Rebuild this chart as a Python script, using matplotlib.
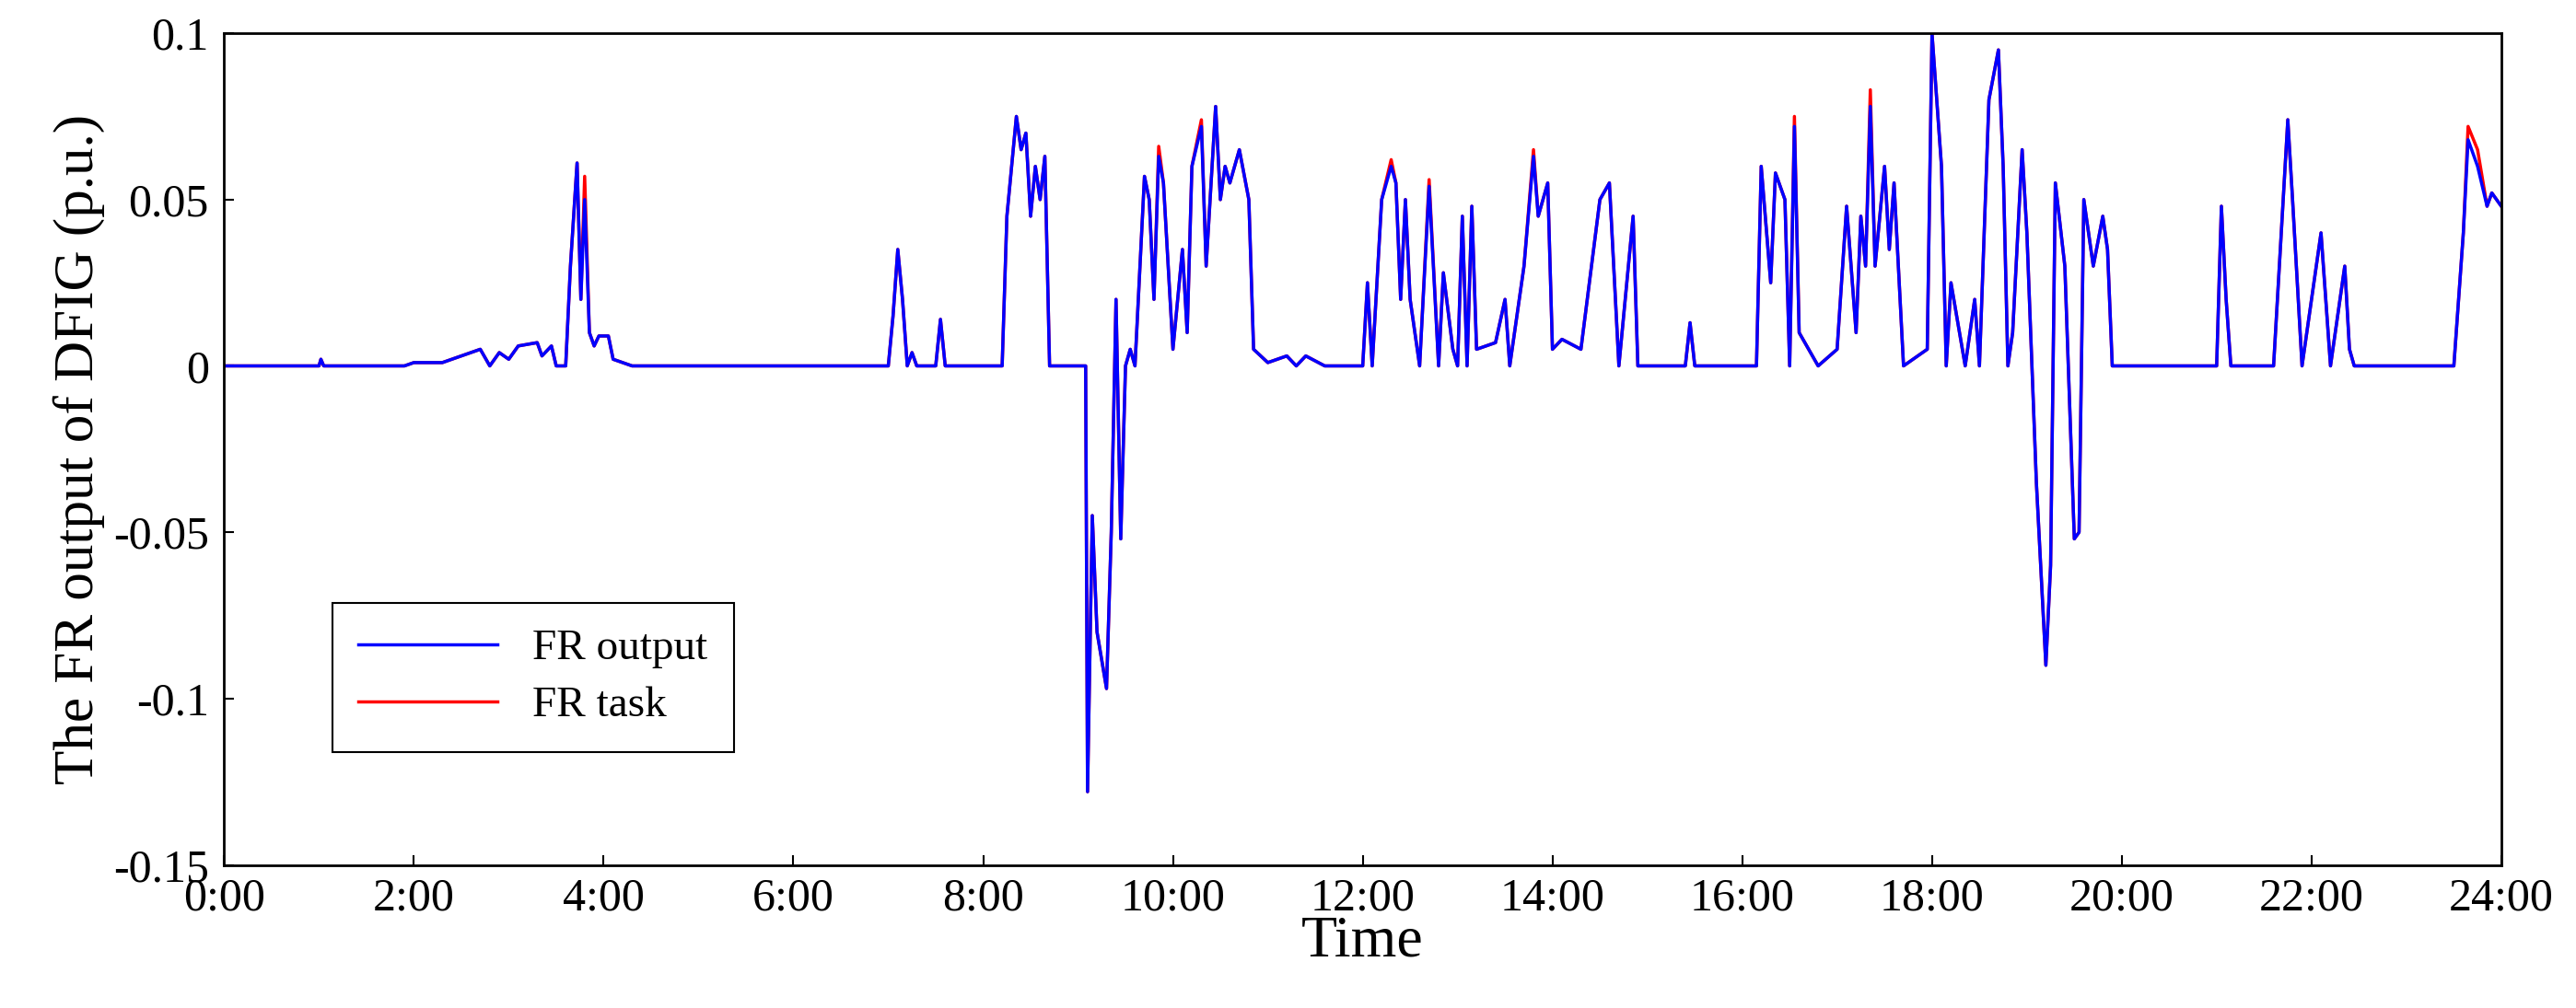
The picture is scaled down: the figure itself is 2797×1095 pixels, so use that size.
import numpy as np
import matplotlib
matplotlib.use("Agg")
import matplotlib.pyplot as plt

pts = [(0,0),(1.0,0),(1.02,0.002),(1.05,0),(1.9,0),(2.0,0.001),(2.3,0.001),(2.5,0.003),(2.7,0.005),(2.8,0.0),(2.9,0.004),(3.0,0.002),(3.1,0.006),(3.3,0.007),(3.35,0.003),(3.45,0.006),(3.5,0),(3.6,0),(3.65,0.03),(3.72,0.061),(3.76,0.02),(3.8,0.05),(3.85,0.01),(3.9,0.006),(3.95,0.009),(4.05,0.009),(4.1,0.002),(4.2,0.001),(4.3,0),
(7.0,0),(7.05,0.015),(7.1,0.035),(7.15,0.02),(7.2,0),(7.25,0.004),(7.3,0),(7.5,0),(7.55,0.014),(7.6,0),(8.2,0),(8.25,0.045),(8.35,0.075),(8.4,0.065),(8.45,0.07),(8.5,0.045),(8.55,0.06),(8.6,0.05),(8.65,0.063),(8.7,0.0),(9.08,0),(9.1,-0.128),(9.15,-0.045),(9.2,-0.08),(9.3,-0.097),(9.35,-0.05),(9.4,0.02),(9.45,-0.052),(9.5,0.0),(9.55,0.005),(9.6,0.0),(9.7,0.057),(9.75,0.05),(9.8,0.02),(9.85,0.063),(9.9,0.055),(10.0,0.005),(10.1,0.035),(10.15,0.01),(10.2,0.06),(10.3,0.072),(10.35,0.03),(10.45,0.078),(10.5,0.05),(10.55,0.06),(10.6,0.055),(10.7,0.065),(10.8,0.05),(10.85,0.005),(11.0,0.001),(11.2,0.003),(11.3,0),(11.4,0.003),(11.6,0),
(12.0,0),(12.05,0.025),(12.1,0),(12.2,0.05),(12.3,0.06),(12.35,0.055),(12.4,0.02),(12.45,0.05),(12.5,0.02),(12.6,0),(12.7,0.054),(12.8,0.0),(12.85,0.028),(12.95,0.005),(13.0,0),(13.05,0.045),(13.1,0.0),(13.15,0.048),(13.2,0.005),(13.4,0.007),(13.5,0.02),(13.55,0),(13.7,0.03),(13.8,0.063),(13.85,0.045),(13.95,0.055),(14.0,0.005),(14.1,0.008),(14.3,0.005),(14.5,0.05),(14.6,0.055),(14.7,0.0),(14.85,0.045),(14.9,0.0),(15.4,0),(15.45,0.013),(15.5,0),
(16.15,0),(16.2,0.06),(16.3,0.025),(16.35,0.058),(16.45,0.05),(16.5,0.0),(16.55,0.072),(16.6,0.01),(16.8,0.0),(17.0,0.005),(17.1,0.048),(17.2,0.01),(17.25,0.045),(17.3,0.03),(17.35,0.078),(17.4,0.03),(17.5,0.06),(17.55,0.035),(17.6,0.055),(17.7,0.0),(17.95,0.005),(18.0,0.1),(18.1,0.06),(18.15,0.0),(18.2,0.025),(18.35,0.0),(18.45,0.02),(18.5,0),(18.6,0.08),(18.7,0.095),(18.75,0.06),(18.8,0.0),(18.85,0.01),(18.95,0.065),(19.0,0.04),(19.1,-0.035),(19.2,-0.09),(19.25,-0.06),(19.3,0.055),(19.4,0.03),(19.5,-0.052),(19.55,-0.05),(19.6,0.05),(19.7,0.03),(19.8,0.045),(19.85,0.035),(19.9,0.0),
(21.0,0),(21.05,0.048),(21.1,0.02),(21.15,0),(21.6,0),(21.75,0.074),(21.8,0.05),(21.9,0.0),(22.05,0.03),(22.1,0.04),(22.2,0.0),(22.35,0.03),(22.4,0.005),(22.45,0),(23.5,0),(23.6,0.04),(23.65,0.068),(23.75,0.06),(23.85,0.048),(23.9,0.052),(24,0.048)]

time = np.array([p[0] for p in pts])
fr_output = np.array([p[1] for p in pts])

# task peaks that are slightly above the output
task_peak_times = [3.8, 9.85, 10.3, 12.3, 12.7, 13.8, 16.55, 17.35, 23.65, 23.75]
task_peak_values = [0.057, 0.066, 0.074, 0.062, 0.056, 0.065, 0.075, 0.083, 0.072, 0.065]
fr_task = fr_output.copy()
for t, v in zip(task_peak_times, task_peak_values):
    fr_task[np.argmin(np.abs(time - t))] = v

plt.rcParams['font.family'] = ['Liberation Serif', 'DejaVu Serif']
fig = plt.figure(figsize=(27.97, 10.95), dpi=100)
ax = fig.add_axes([0.087, 0.142, 0.884, 0.825])
ax.plot(time, fr_task, color='red', lw=2.5, label='FR task')
ax.plot(time, fr_output, color='blue', lw=2.5, label='FR output')
ax.set_xlim(0, 24)
ax.set_ylim(-0.15, 0.1)
ax.set_xticks(range(0, 25, 2))
ax.set_xticklabels([f"{h}:00" for h in range(0, 25, 2)])
ax.set_yticks([-0.15, -0.1, -0.05, 0, 0.05, 0.1])
ax.set_yticklabels(['-0.15', '-0.1', '-0.05', '0', '0.05', '0.1'])
ax.tick_params(direction='in', labelsize=36, length=8, width=1.5, top=False, right=False)
ax.tick_params(axis='x', pad=10)
ax.tick_params(axis='y', pad=12)
for s in ax.spines.values():
    s.set_linewidth(2)
ax.set_xlabel('Time', fontsize=46, labelpad=-4)
ax.set_ylabel('The FR output of DFIG (p.u.)', fontsize=44, labelpad=6)
h, l = ax.get_legend_handles_labels()
leg = ax.legend(h[::-1], l[::-1], loc='lower left', bbox_to_anchor=(0.038, 0.11), fontsize=34,
                fancybox=False, edgecolor='black', framealpha=1, handlelength=3.2, borderpad=0.6,
                labelspacing=0.4)
leg.get_frame().set_linewidth(1.5)
fig.savefig('out.png', dpi=100)
